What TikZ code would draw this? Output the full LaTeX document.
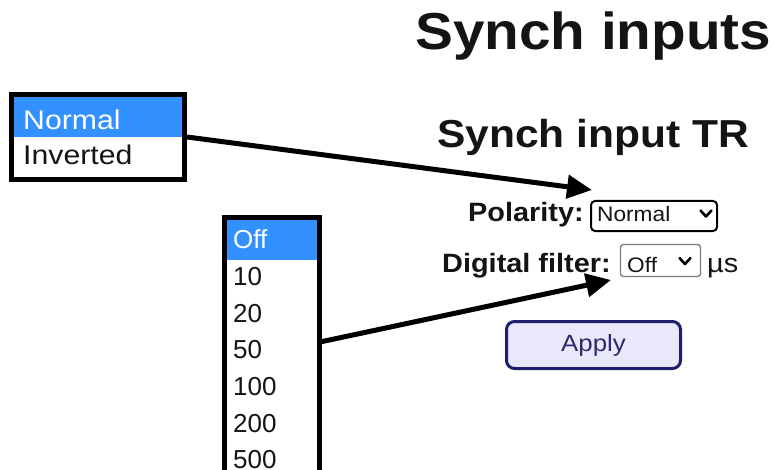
\documentclass[tikz,border=0pt]{standalone}
\usepackage{fontspec}
\setmainfont{Liberation Sans}
\usetikzlibrary{arrows.meta}

\definecolor{selblue}{HTML}{3390FF}
\definecolor{btnfill}{HTML}{E8E8FA}
\definecolor{btnedge}{HTML}{1E1E6E}
\definecolor{btntext}{HTML}{2B2B6B}
\definecolor{ddgray}{HTML}{7A7A7A}
\definecolor{ink}{HTML}{141414}

% horizontal stretch for text
\newcommand\hs[2]{\scalebox{#1}[1]{#2}}

\begin{document}
\begin{tikzpicture}[x=1pt,y=-1pt,
  txt/.style={anchor=base west, inner sep=0pt, text=ink},
  listbox/.style={draw=black, fill=white, line width=5pt, inner sep=0pt},
  pointer/.style={line width=5pt, -{Triangle[length=25pt,width=23pt]}},
  chev/.style={line width=2.6pt, line cap=round, line join=round}
]
\useasboundingbox (0,0) rectangle (775,470);
\clip (0,0) rectangle (775,470);
\fill[white] (0,0) rectangle (775,470);

% headings
\node[txt, font=\fontsize{52}{52}\selectfont\bfseries] (title) at (415,50) {\hs{1.09}{Synch inputs}};
\node[txt, font=\fontsize{39}{39}\selectfont\bfseries] (subtitle) at (437,148) {\hs{1.09}{Synch input TR}};

% polarity row
\node[txt, font=\fontsize{26.5}{26.5}\selectfont\bfseries] (pollabel) at (468,222) {\hs{1.09}{Polarity:}};
\node[draw=black, line width=2pt, rounded corners=4pt, minimum width=126pt, minimum height=30pt, inner sep=0pt] (poldd) at (654,216) {};
\node[txt, font=\fontsize{21}{21}\selectfont] (polval) at (597,222) {\hs{1.08}{Normal}};
\draw[chev] (700.5,210.5) -- (706,216.5) -- (711.5,210.5);

% digital filter row
\node[txt, font=\fontsize{26.5}{26.5}\selectfont\bfseries] (filtlabel) at (442,272) {\hs{1.09}{Digital filter:}};
\node[draw=ddgray, line width=1.3pt, rounded corners=3pt, minimum width=80pt, minimum height=32pt, inner sep=0pt] (filtdd) at (660.5,260.5) {};
\node[txt, font=\fontsize{21}{21}\selectfont] (filtval) at (627,272) {\hs{1.08}{Off}};
\draw[chev] (679.5,258) -- (685,264) -- (690.5,258);
\node[txt, font=\fontsize{26.5}{26.5}\selectfont] (unit) at (707,272) {\hs{1.09}{µs}};

% apply button
\node[draw=btnedge, fill=btnfill, line width=3pt, rounded corners=8pt, minimum width=174pt, minimum height=47pt, inner sep=0pt,
      text=btntext, font=\fontsize{23.5}{23.5}\selectfont] (apply) at (593.5,345) {\hs{1.1}{Apply}};

% polarity option list
\node[listbox, minimum width=173pt, minimum height=85pt] (pollist) at (98,137) {};
\fill[selblue] (14,97) rectangle (182,137);
\node[txt, text=white, font=\fontsize{27}{27}\selectfont] (optnormal) at (23,130) {\hs{1.12}{Normal}};
\node[txt, font=\fontsize{27}{27}\selectfont] (optinverted) at (23,165) {\hs{1.12}{Inverted}};

% filter option list (runs past the lower edge)
\node[listbox, minimum width=95pt, minimum height=302.5pt] (filtlist) at (272,368.75) {};
\fill[selblue] (227,220) rectangle (317,260);
\node[txt, text=white, font=\fontsize{26}{26}\selectfont] (optoff) at (233,248) {Off};
\node[txt, font=\fontsize{26}{26}\selectfont] (opt10) at (233,285) {10};
\node[txt, font=\fontsize{26}{26}\selectfont] (opt20) at (233,322) {20};
\node[txt, font=\fontsize{26}{26}\selectfont] (opt50) at (233,358) {50};
\node[txt, font=\fontsize{26}{26}\selectfont] (opt100) at (233,395) {100};
\node[txt, font=\fontsize{26}{26}\selectfont] (opt200) at (233,432) {200};
\node[txt, font=\fontsize{26}{26}\selectfont] (opt500) at (233,468) {500};

% pointers from the lists to their dropdowns
\coordinate (poltip) at (592,190);
\coordinate (filtfrom) at (320,342);
\coordinate (filttip) at (611,280);
\draw[pointer] (pollist.east) -- (poltip);
\draw[pointer] (filtfrom) -- (filttip);
\end{tikzpicture}
\end{document}
